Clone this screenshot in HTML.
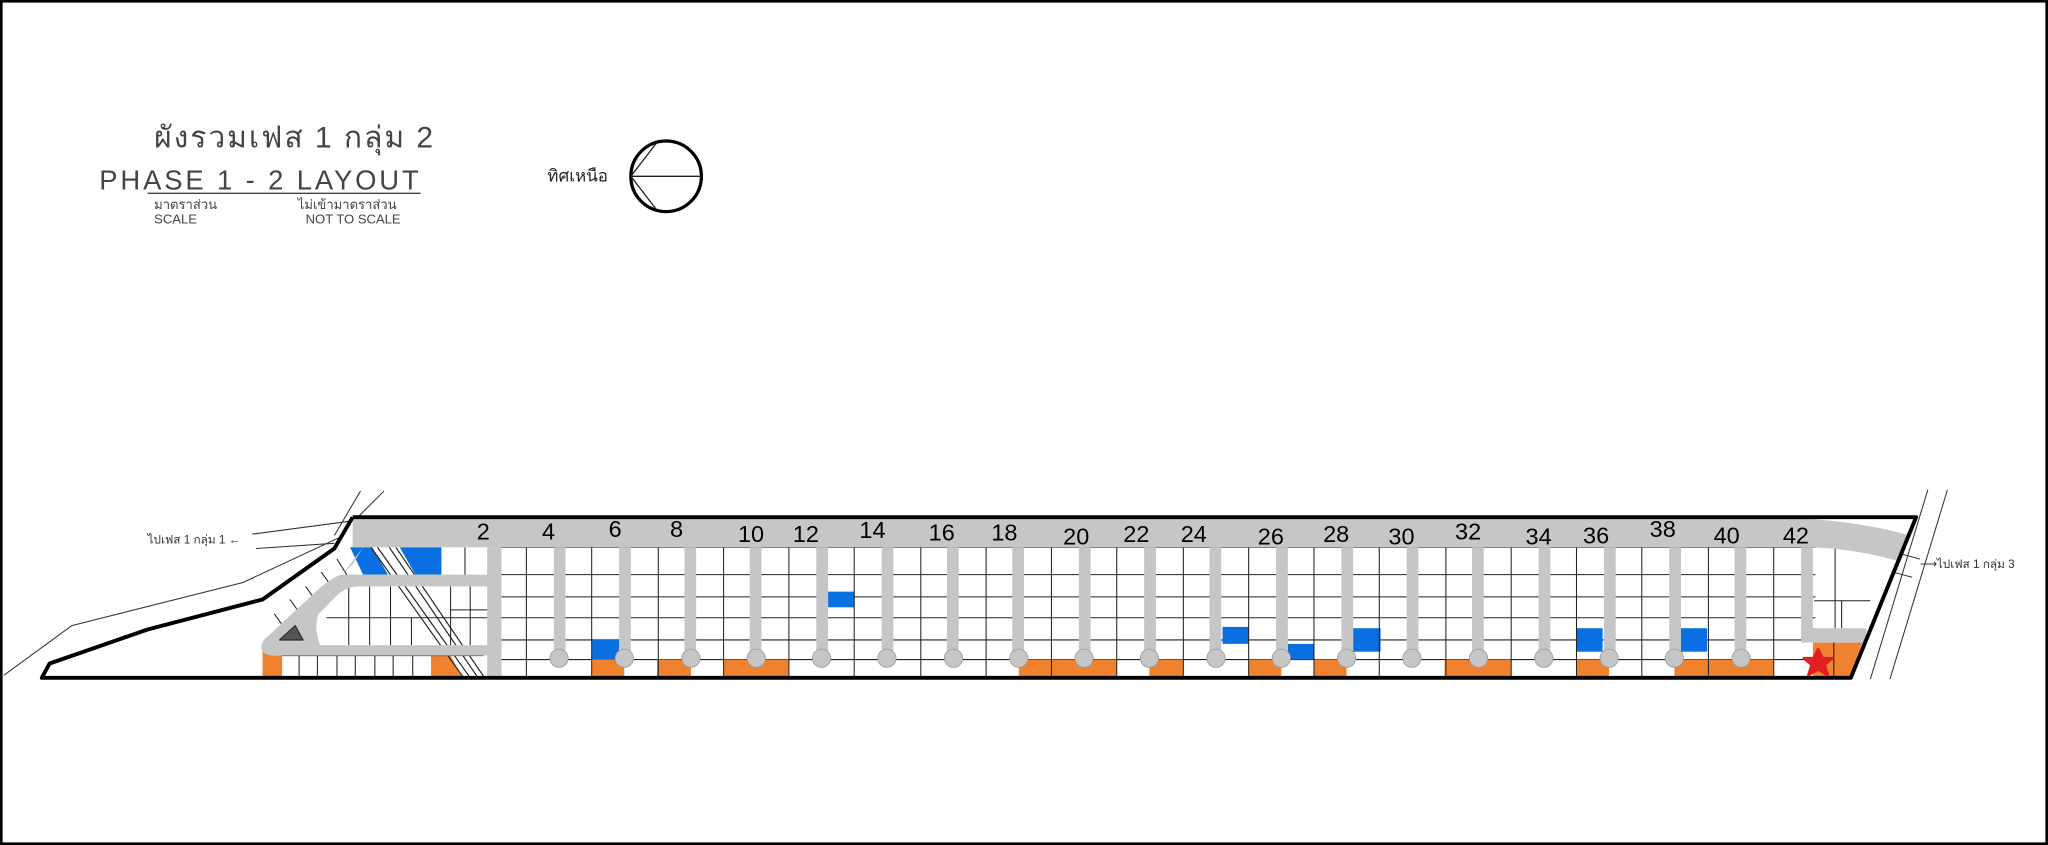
<!DOCTYPE html>
<html><head><meta charset="utf-8"><style>
html,body{margin:0;padding:0;background:#fff}
svg{display:block}
text{font-family:"Liberation Sans","Noto Sans CJK SC",sans-serif}
</style></head><body>
<svg width="2048" height="845" viewBox="0 0 1568 647" preserveAspectRatio="none" xmlns="http://www.w3.org/2000/svg">
<rect x="1" y="1" width="1566" height="645" fill="#fff" stroke="#000" stroke-width="2"/>

<!-- Title -->
<g fill="#444">
<text x="118" y="113" font-size="23" font-weight="300" letter-spacing="1.5">ผังรวมเฟส 1 กลุ่ม 2</text>
<text x="76" y="145" font-size="21" font-weight="300" letter-spacing="2.2">PHASE 1 - 2 LAYOUT</text>
<text x="118" y="160" font-size="10">มาตราส่วน</text>
<text x="118" y="171" font-size="10">SCALE</text>
<text x="228" y="160" font-size="10">ไม่เข้ามาตราส่วน</text>
<text x="234" y="171" font-size="10">NOT TO SCALE</text>
</g>
<line x1="113" y1="148" x2="322" y2="148" stroke="#444" stroke-width="1"/>
<!-- compass -->
<text x="419" y="139" font-size="13" fill="#222">ทิศเหนือ</text>
<circle cx="510" cy="135" r="27" fill="none" stroke="#000" stroke-width="2.5"/>
<g stroke="#222" stroke-width="1"><line x1="483" y1="135" x2="537" y2="135"/><line x1="483" y1="135" x2="503" y2="109"/><line x1="483" y1="135" x2="503" y2="161"/></g>

<!-- outer thin road lines -->
<g stroke="#333" stroke-width="0.8" fill="none">
<polyline points="3,517 55,479 186,446 259,412"/>
<line x1="193" y1="409" x2="276" y2="398"/>
<line x1="196" y1="420" x2="256" y2="416"/>
<line x1="256" y1="410" x2="276" y2="376"/>
<line x1="272" y1="398" x2="294" y2="376"/>
<line x1="1476" y1="375" x2="1432" y2="520"/>
<line x1="1491" y1="375" x2="1447" y2="520"/>
<line x1="1455" y1="424" x2="1470" y2="428"/>
<line x1="1449" y1="438" x2="1464" y2="442"/>
</g>
<text x="113" y="416" font-size="9" fill="#333">ไปเฟส 1 กลุ่ม 1 ←</text>
<text x="1470" y="435" font-size="9" fill="#333">⟶ไปเฟส 1 กลุ่ม 3</text>

<!-- lots grid (main) -->
<g stroke="#222" stroke-width="0.8">
<line x1="383" y1="419" x2="1390" y2="419"/>
<line x1="383" y1="440" x2="1390" y2="440"/>
<line x1="383" y1="457" x2="1390" y2="457"/>
<line x1="383" y1="473" x2="1390" y2="473"/>
<line x1="383" y1="490" x2="1390" y2="490"/>
<line x1="383" y1="505" x2="1390" y2="505"/>
</g>
<!-- colored lots -->
<g fill="#f0822f">
<rect x="453" y="505" width="25" height="14"/>
<rect x="503" y="505" width="26" height="14"/>
<rect x="554" y="505" width="50" height="14"/>
<rect x="780" y="505" width="75" height="14"/>
<rect x="880" y="505" width="26" height="14"/>
<rect x="956" y="505" width="25" height="14"/>
<rect x="1006" y="505" width="25" height="14"/>
<rect x="1106" y="505" width="51" height="14"/>
<rect x="1207" y="505" width="25" height="14"/>
<rect x="1282" y="505" width="76" height="14"/>
<polygon points="1388,492 1426,492 1416,519 1388,519"/>
<rect x="201" y="496" width="15" height="23"/>
<polygon points="330,502 345,502 354,519 330,519"/>
</g>
<g fill="#0a6fe0">
<rect x="453" y="490" width="21" height="15"/>
<rect x="634" y="453" width="20" height="12"/>
<rect x="936" y="480" width="20" height="13"/>
<rect x="986" y="493" width="20" height="12"/>
<rect x="1036" y="481" width="21" height="18"/>
<rect x="1207" y="481" width="20" height="18"/>
<rect x="1287" y="481" width="20" height="18"/>
<polygon points="268,419 285,419 297,440 278,440"/>
<polygon points="306,419 338,419 338,440 318,440"/>
</g>
<g stroke="#222" stroke-width="0.8">
<line x1="403" y1="419" x2="403" y2="519"/><line x1="453" y1="419" x2="453" y2="519"/>
<line x1="504" y1="419" x2="504" y2="519"/><line x1="554" y1="419" x2="554" y2="519"/>
<line x1="604" y1="419" x2="604" y2="519"/><line x1="654" y1="419" x2="654" y2="519"/>
<line x1="705" y1="419" x2="705" y2="519"/><line x1="755" y1="419" x2="755" y2="519"/>
<line x1="805" y1="419" x2="805" y2="519"/><line x1="855" y1="419" x2="855" y2="519"/>
<line x1="906" y1="419" x2="906" y2="519"/><line x1="956" y1="419" x2="956" y2="519"/>
<line x1="1006" y1="419" x2="1006" y2="519"/><line x1="1056" y1="419" x2="1056" y2="519"/>
<line x1="1107" y1="419" x2="1107" y2="519"/><line x1="1157" y1="419" x2="1157" y2="519"/>
<line x1="1207" y1="419" x2="1207" y2="519"/><line x1="1257" y1="419" x2="1257" y2="519"/>
<line x1="1308" y1="419" x2="1308" y2="519"/><line x1="1358" y1="419" x2="1358" y2="519"/>
<line x1="1404" y1="492" x2="1404" y2="519"/>
<line x1="1405" y1="420" x2="1405" y2="481"/><line x1="1410" y1="460" x2="1410" y2="481"/>
<line x1="1389" y1="460" x2="1432" y2="460"/>
<!-- left area lots -->
<line x1="216" y1="502" x2="370" y2="502"/>
<line x1="229" y1="502" x2="229" y2="519"/><line x1="243" y1="502" x2="243" y2="519"/>
<line x1="258" y1="502" x2="258" y2="519"/><line x1="272" y1="502" x2="272" y2="519"/>
<line x1="287" y1="502" x2="287" y2="519"/><line x1="301" y1="502" x2="301" y2="519"/>
<line x1="316" y1="502" x2="316" y2="519"/>
<line x1="250" y1="473" x2="374" y2="473"/>
<line x1="267" y1="449" x2="267" y2="494"/><line x1="283" y1="449" x2="283" y2="494"/>
<line x1="299" y1="449" x2="299" y2="494"/><line x1="315" y1="473" x2="315" y2="494"/>
<line x1="345" y1="449" x2="345" y2="494"/><line x1="360" y1="449" x2="360" y2="494"/>
<line x1="345" y1="467" x2="374" y2="467"/>
<line x1="356" y1="419" x2="356" y2="440"/>
<line x1="210" y1="470" x2="220" y2="484"/><line x1="222" y1="459" x2="232" y2="473"/>
<line x1="234" y1="449" x2="244" y2="463"/><line x1="246" y1="438" x2="256" y2="452"/>
<line x1="258" y1="428" x2="266" y2="441"/>
</g>
<!-- left area diagonal road lines -->
<g stroke="#222" stroke-width="0.9">
<line x1="284" y1="419" x2="355" y2="519"/><line x1="289" y1="419" x2="360" y2="519"/>
<line x1="298" y1="419" x2="366" y2="519"/><line x1="303" y1="419" x2="371" y2="519"/>
</g>

<!-- grey roads -->
<g fill="#c6c6c6">
<path d="M270,396 L1362,396 Q1420,398 1462,410 L1455,430 Q1420,420 1386,419 L270,419 Z"/>
<path d="M278,419 L270,432 L262,440 L374,440 L374,449 L275,449 Q265,449 258,456 L244,470 Q240,480 245,494 L374,494 L374,502 L208,502 Q196,500 202,490 L245,450 Q258,440 262,440 Z"/>
<rect x="373" y="419" width="11" height="100"/>
<rect x="1379" y="419" width="9" height="73"/>
<rect x="1379" y="481" width="50" height="11"/>
</g>
<polygon points="214,490 226,479 232,490" fill="#555" stroke="#333" stroke-width="1" stroke-linejoin="round"/>
<g fill="#c6c6c6" stroke="#999" stroke-width="0.6">
<rect x="424" y="419" width="9" height="85" stroke="none"/><circle cx="428" cy="504" r="7"/>
<rect x="474" y="419" width="9" height="85" stroke="none"/><circle cx="478" cy="504" r="7"/>
<rect x="524" y="419" width="9" height="85" stroke="none"/><circle cx="529" cy="504" r="7"/>
<rect x="574" y="419" width="9" height="85" stroke="none"/><circle cx="579" cy="504" r="7"/>
<rect x="625" y="419" width="9" height="85" stroke="none"/><circle cx="629" cy="504" r="7"/>
<rect x="675" y="419" width="9" height="85" stroke="none"/><circle cx="679" cy="504" r="7"/>
<rect x="725" y="419" width="9" height="85" stroke="none"/><circle cx="730" cy="504" r="7"/>
<rect x="775" y="419" width="9" height="85" stroke="none"/><circle cx="780" cy="504" r="7"/>
<rect x="826" y="419" width="9" height="85" stroke="none"/><circle cx="830" cy="504" r="7"/>
<rect x="876" y="419" width="9" height="85" stroke="none"/><circle cx="880" cy="504" r="7"/>
<rect x="926" y="419" width="9" height="85" stroke="none"/><circle cx="931" cy="504" r="7"/>
<rect x="977" y="419" width="9" height="85" stroke="none"/><circle cx="981" cy="504" r="7"/>
<rect x="1027" y="419" width="9" height="85" stroke="none"/><circle cx="1031" cy="504" r="7"/>
<rect x="1077" y="419" width="9" height="85" stroke="none"/><circle cx="1081" cy="504" r="7"/>
<rect x="1127" y="419" width="9" height="85" stroke="none"/><circle cx="1132" cy="504" r="7"/>
<rect x="1178" y="419" width="9" height="85" stroke="none"/><circle cx="1182" cy="504" r="7"/>
<rect x="1228" y="419" width="9" height="85" stroke="none"/><circle cx="1232" cy="504" r="7"/>
<rect x="1278" y="419" width="9" height="85" stroke="none"/><circle cx="1282" cy="504" r="7"/>
<rect x="1328" y="419" width="9" height="85" stroke="none"/><circle cx="1333" cy="504" r="7"/>
</g>

<!-- star -->
<polygon points="1392,497 1395.5,504 1403,504 1397,509 1399.5,517 1392,512.5 1384.5,517 1387,509 1381,504 1388.5,504" fill="#e0201e" stroke="#e0201e" stroke-width="2" stroke-linejoin="round"/>

<!-- boundary -->
<polyline points="270,396 1467,396 1417,519 32,519 38,508 113,482 201,459 256,420 270,396" fill="none" stroke="#000" stroke-width="3" stroke-linejoin="round"/>

<!-- road numbers -->
<g font-size="18" fill="#000" text-anchor="middle">
<text x="370" y="413">2</text><text x="420" y="413">4</text><text x="471" y="411">6</text>
<text x="518" y="411">8</text><text x="575" y="415">10</text><text x="617" y="415">12</text>
<text x="668" y="412">14</text><text x="721" y="414">16</text><text x="769" y="414">18</text>
<text x="824" y="417">20</text><text x="870" y="415">22</text><text x="914" y="415">24</text>
<text x="973" y="417">26</text><text x="1023" y="415">28</text><text x="1073" y="417">30</text>
<text x="1124" y="413">32</text><text x="1178" y="417">34</text><text x="1222" y="416">36</text>
<text x="1273" y="411">38</text><text x="1322" y="416">40</text><text x="1375" y="416">42</text>
</g>
</svg>
</body></html>
